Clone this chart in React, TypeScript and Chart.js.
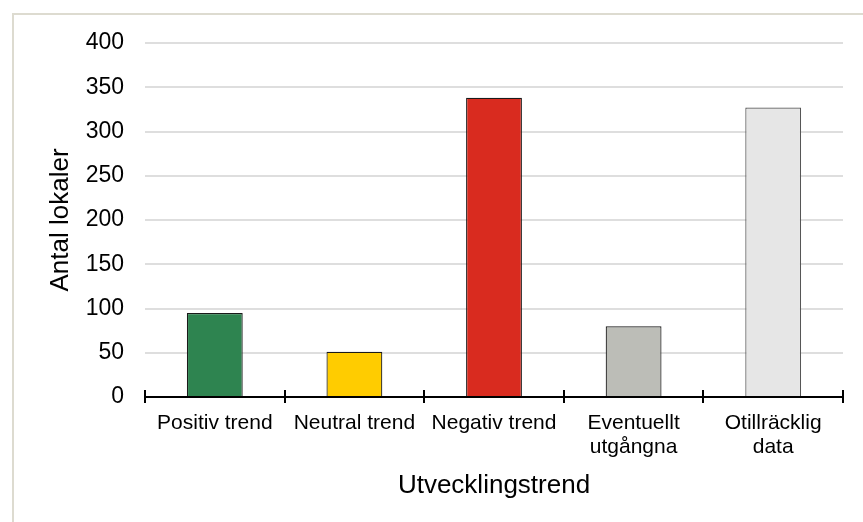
import React, { useEffect, useRef } from "react";
import { Chart, registerables } from "chart.js";

Chart.register(...registerables);

const categories: (string | string[])[] = [
  "Positiv trend",
  "Neutral trend",
  "Negativ trend",
  ["Eventuellt", "utgångna"],
  ["Otillräcklig", "data"],
];
const values = [95, 51, 338, 80, 327];
const barColors = ["#2e8450", "#ffcc00", "#d92b1f", "#bcbdb7", "#e6e6e6"];
const barBorders = ["#1a1a1a", "#1a1a1a", "#1a1a1a", "#1a1a1a", "#555555"];
const yTitle = "Antal lokaler";
const xTitle = "Utvecklingstrend";
const yMax = 400;
const yStep = 50;

const FONT = "'Liberation Sans', Arial, sans-serif";

const crossTicks = {
  id: "crossTicks",
  afterDatasetsDraw(chart: any) {
    const xs = chart.scales.x;
    const ctx = chart.ctx;
    const n = xs.ticks.length;
    const y = chart.chartArea.bottom;
    ctx.save();
    ctx.strokeStyle = "#000";
    ctx.lineWidth = 2;
    for (let i = 0; i <= n; i++) {
      const x = Math.round(xs.getPixelForValue(i - 0.5));
      ctx.beginPath();
      ctx.moveTo(x, y - 7);
      ctx.lineTo(x, y + 6);
      ctx.stroke();
    }
    ctx.restore();
  },
};

export default function App() {
  const ref = useRef<HTMLCanvasElement | null>(null);
  useEffect(() => {
    if (!ref.current) return;
    const chart = new Chart(ref.current, {
      type: "bar",
      data: {
        labels: categories,
        datasets: [
          {
            data: values,
            backgroundColor: barColors,
            borderColor: barBorders,
            borderWidth: 1.2,
            barPercentage: 0.4,
            categoryPercentage: 1,
          },
        ],
      },
      options: {
        responsive: false,
        animation: false,
        layout: { padding: { top: 43, right: 20, left: 0, bottom: 0 } },
        plugins: { legend: { display: false }, tooltip: { enabled: false } },
        scales: {
          x: {
            offset: true,
            grid: { display: true, drawOnChartArea: false, drawTicks: false, offset: true, color: "#000", lineWidth: 2 },
            border: { display: true, color: "#000", width: 2 },
            ticks: {
              color: "#000",
              font: { family: FONT, size: 21, lineHeight: 1.15 },
              padding: 14,
              maxRotation: 0,
              minRotation: 0,
              autoSkip: false,
            },
            title: {
              display: true,
              text: xTitle,
              color: "#000",
              font: { family: FONT, size: 26 },
              padding: { top: 0, bottom: 21 },
            },
            afterFit(scale: any) {
              scale.height = 125;
            },
          },
          y: {
            min: 0,
            max: yMax,
            ticks: {
              stepSize: yStep,
              color: "#000",
              font: { family: FONT, size: 23 },
              padding: 21,
            },
            grid: { color: "#dedede", lineWidth: 2, drawTicks: false },
            border: { display: false },
            title: {
              display: true,
              text: yTitle,
              color: "#000",
              font: { family: FONT, size: 26 },
              padding: { top: 45, bottom: 0 },
            },
            afterFit(scale: any) {
              scale.width = 145;
            },
          },
        },
      },
      plugins: [crossTicks],
    });
    return () => chart.destroy();
  }, []);

  return (
    <div style={{ position: "fixed", left: 0, top: 0, width: 863, height: 522, background: "#fff" }}>
      <canvas ref={ref} width={863} height={522} style={{ position: "absolute", left: 0, top: 0 }} />
      <div
        style={{
          position: "absolute",
          left: 12,
          top: 13,
          width: 900,
          height: 600,
          border: "2px solid #dddbd0",
          pointerEvents: "none",
        }}
      />
    </div>
  );
}
